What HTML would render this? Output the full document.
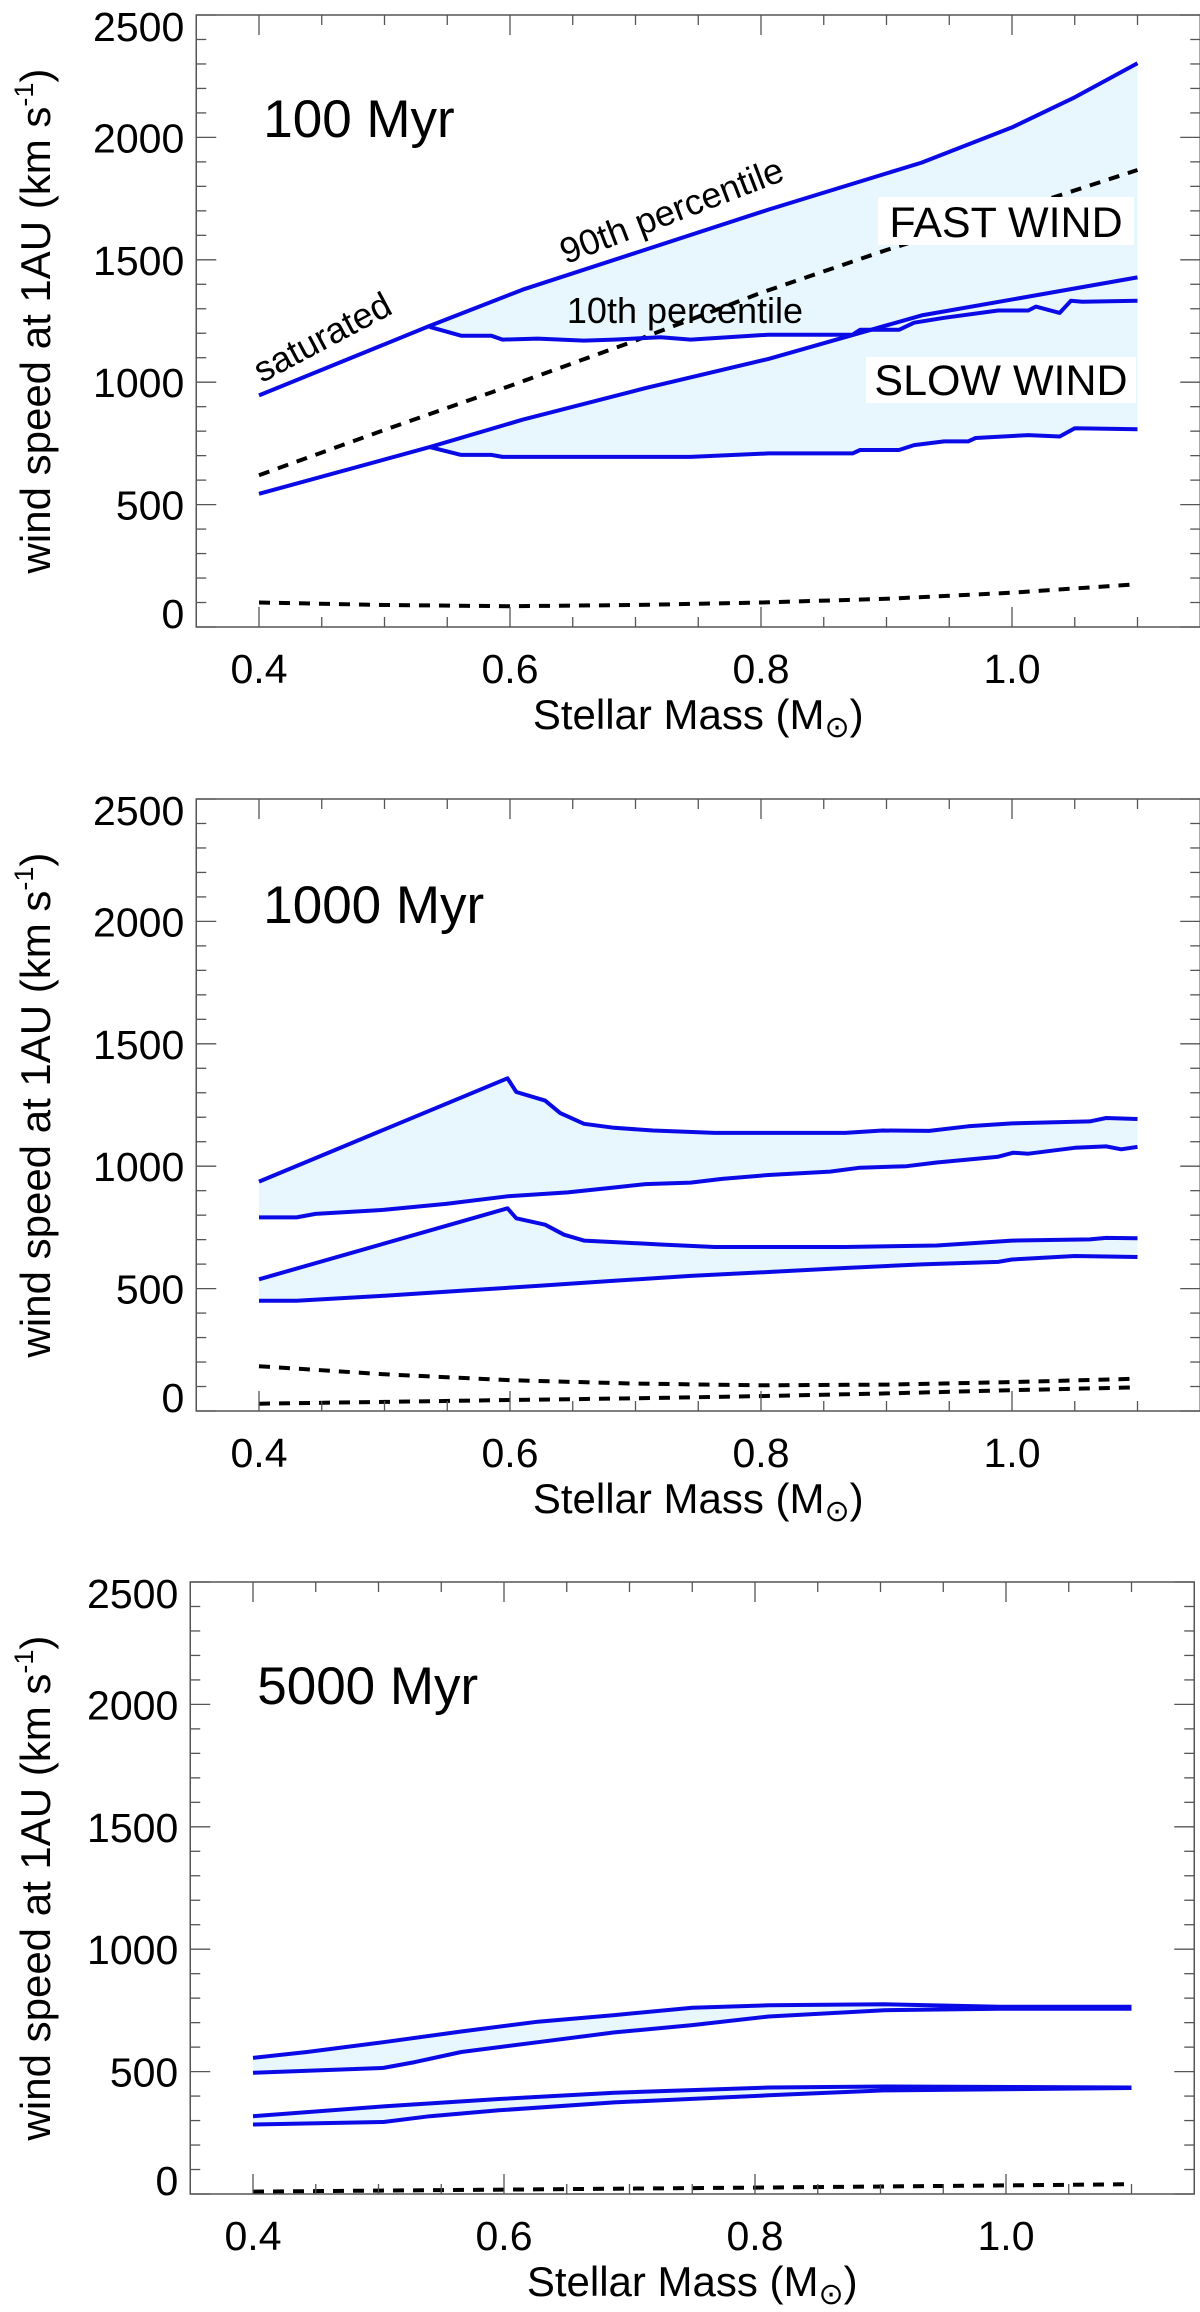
<!DOCTYPE html>
<html><head><meta charset="utf-8">
<style>
html,body{margin:0;padding:0;background:#fff;}
svg{display:block;font-family:"Liberation Sans",Arial,sans-serif;}
</style></head>
<body>
<svg id="chart" width="1200" height="2312" viewBox="0 0 1200 2312" xmlns="http://www.w3.org/2000/svg"></svg>
<script>
// ---------- DATA ----------
const xTicks = [0.4, 0.6, 0.8, 1.0];
const xTickLabels = ["0.4", "0.6", "0.8", "1.0"];
const yTicks = [0, 500, 1000, 1500, 2000, 2500];
const yTickLabels = ["0", "500", "1000", "1500", "2000", "2500"];
const panelTitles = ["100 Myr", "1000 Myr", "5000 Myr"];

// Panel 1 (100 Myr)
const p1FastUpperM = [0.4, 0.536, 0.61, 0.806, 0.928, 1.0, 1.05, 1.1];
const p1FastUpperV = [946, 1230, 1378, 1705, 1897, 2041, 2164, 2303];
const p1FastLowerM = [0.536, 0.561, 0.585, 0.594, 0.622, 0.659, 0.683, 0.72, 0.744, 0.806, 0.873, 0.879, 0.91, 0.922, 0.946, 0.989, 1.013, 1.019, 1.038, 1.047, 1.056, 1.1];
const p1FastLowerV = [1226, 1190, 1190, 1174, 1178, 1170, 1174, 1184, 1174, 1194, 1194, 1214, 1214, 1243, 1263, 1293, 1293, 1309, 1283, 1333, 1329, 1333];
const p1SlowUpperM = [0.4, 0.536, 0.61, 0.708, 0.806, 0.928, 1.1];
const p1SlowUpperV = [544, 735, 847, 976, 1095, 1273, 1428];
const p1SlowLowerM = [0.536, 0.561, 0.585, 0.594, 0.659, 0.744, 0.806, 0.873, 0.879, 0.91, 0.922, 0.946, 0.965, 0.971, 1.013, 1.038, 1.05, 1.1];
const p1SlowLowerV = [735, 703, 703, 695, 695, 695, 709, 709, 723, 723, 743, 758, 758, 772, 784, 778, 812, 808];
const p1DashBoundM = [0.4, 0.5, 0.6, 0.7, 0.8, 0.9, 1.0, 1.1];
const p1DashBoundV = [620, 805, 985, 1170, 1365, 1540, 1700, 1867];
const p1DashLowM = [0.4, 0.5, 0.6, 0.7, 0.8, 0.9, 1.0, 1.1];
const p1DashLowV = [100, 90, 85, 90, 100, 115, 140, 175];

// Panel 2 (1000 Myr)
const p2FastUpperM = [0.4, 0.598, 0.605, 0.628, 0.64, 0.659, 0.683, 0.714, 0.763, 0.867, 0.897, 0.934, 0.965, 1.0, 1.062, 1.075, 1.1];
const p2FastUpperV = [937, 1359, 1303, 1268, 1217, 1173, 1157, 1146, 1136, 1136, 1146, 1144, 1163, 1175, 1183, 1197, 1193];
const p2FastLowerM = [0.4, 0.43, 0.445, 0.5, 0.549, 0.598, 0.646, 0.683, 0.708, 0.744, 0.769, 0.806, 0.855, 0.879, 0.916, 0.94, 0.989, 1.001, 1.013, 1.05, 1.075, 1.087, 1.1];
const p2FastLowerV = [791, 791, 805, 822, 846, 877, 893, 913, 927, 933, 948, 964, 978, 994, 1000, 1015, 1039, 1055, 1051, 1075, 1081, 1069, 1079];
const p2SlowUpperM = [0.4, 0.598, 0.605, 0.628, 0.643, 0.659, 0.683, 0.72, 0.763, 0.867, 0.94, 1.0, 1.062, 1.075, 1.1];
const p2SlowUpperV = [538, 828, 787, 761, 720, 696, 690, 680, 670, 670, 676, 696, 701, 707, 706];
const p2SlowLowerM = [0.4, 0.43, 0.5, 0.561, 0.622, 0.683, 0.744, 0.806, 0.867, 0.928, 0.989, 1.0, 1.05, 1.1];
const p2SlowLowerV = [450, 450, 471, 491, 511, 532, 552, 568, 584, 599, 609, 619, 633, 629];
const p2DashUpperM = [0.4, 0.5, 0.6, 0.7, 0.8, 0.9, 1.0, 1.1];
const p2DashUpperV = [183, 150, 126, 112, 105, 108, 118, 132];
const p2DashLowerM = [0.4, 0.5, 0.6, 0.7, 0.8, 0.9, 1.0, 1.1];
const p2DashLowerV = [30, 37, 45, 52, 61, 72, 85, 97];

// Panel 3 (5000 Myr)
const p3FastUpperM = [0.4, 0.443, 0.504, 0.566, 0.627, 0.688, 0.75, 0.811, 0.903, 0.995, 1.1];
const p3FastUpperV = [556, 580, 620, 664, 704, 731, 761, 771, 775, 765, 765];
const p3FastLowerM = [0.4, 0.504, 0.529, 0.566, 0.627, 0.688, 0.75, 0.811, 0.903, 0.995, 1.1];
const p3FastLowerV = [495, 515, 539, 580, 620, 660, 690, 725, 751, 757, 757];
const p3SlowUpperM = [0.4, 0.504, 0.596, 0.688, 0.811, 0.903, 1.1];
const p3SlowUpperV = [318, 358, 388, 414, 435, 439, 435];
const p3SlowLowerM = [0.4, 0.504, 0.541, 0.596, 0.688, 0.811, 0.903, 1.1];
const p3SlowLowerV = [284, 294, 318, 342, 374, 403, 423, 433];
const p3DashM = [0.4, 0.6, 0.8, 1.0, 1.1];
const p3DashV = [10, 18, 26, 35, 40];

// ---------- LAYOUT ----------
const NS = "http://www.w3.org/2000/svg";
const svg = document.getElementById("chart");
const panels = [
  {x04: 259, bottom: 627, top: 15},
  {x04: 259, bottom: 1411, top: 799},
  {x04: 253, bottom: 2194, top: 1582}
];
const PXM = 1255, PXV = 0.2448;
const BLUE = "#0a0ae6", FILL = "#e8f6fd";

function mk(tag, attrs, parent) {
  const e = document.createElementNS(NS, tag);
  for (const k in attrs) e.setAttribute(k, attrs[k]);
  (parent || svg).appendChild(e);
  return e;
}
function xs(p, m) { return p.x04 + (m - 0.4) * PXM; }
function ys(p, v) { return p.bottom - v * PXV; }
function pts(p, M, V) { return M.map((m, i) => xs(p, m).toFixed(1) + "," + ys(p, V[i]).toFixed(1)); }

function drawLine(g, p, M, V, name, dashed) {
  const el = mk("polyline", {points: pts(p, M, V).join(" "), fill: "none",
    stroke: dashed ? "#000" : BLUE, "stroke-width": 4, "stroke-linejoin": "round",
    "stroke-dasharray": dashed ? "11 9" : "none"}, g);
  
  
}
function drawBand(g, p, UM, UV, LM, LV, name) {
  const a = pts(p, UM, UV), b = pts(p, LM, LV).reverse();
  const el = mk("polygon", {points: a.concat(b).join(" "), fill: FILL, stroke: "none"}, g);
  
  
}
function text(g, x, y, s, size, anchor, name, extra) {
  const t = mk("text", Object.assign({x: x, y: y, "font-size": size, "text-anchor": anchor || "start", fill: "#000"}, extra || {}), g);
  t.textContent = s;
  
  
  return t;
}

function drawAxes(p, idx) {
  const g = mk("g", {});
  
  
  const L = xs(p, 0.35), R = xs(p, 1.15);
  const fr = mk("rect", {x: L, y: p.top, width: R - L, height: p.bottom - p.top, fill: "none", stroke: "#555", "stroke-width": 1.5}, g);
  
  
  for (let v = 0; v <= 2500; v += 100) {
    const y = ys(p, v), major = v % 500 === 0, len = major ? 20 : 10;
    mk("line", {x1: L, y1: y, x2: L + len, y2: y, stroke: "#555", "stroke-width": 1.3}, g);
    mk("line", {x1: R, y1: y, x2: R - len, y2: y, stroke: "#555", "stroke-width": 1.3}, g);
  }
  for (let k = 0; k <= 16; k++) {
    const m = 0.35 + k * 0.05, x = xs(p, m);
    const major = Math.abs(((m - 0.4) / 0.2) - Math.round((m - 0.4) / 0.2)) < 1e-6;
    const len = major ? 20 : 10;
    mk("line", {x1: x, y1: p.bottom, x2: x, y2: p.bottom - len, stroke: "#555", "stroke-width": 1.3}, g);
    mk("line", {x1: x, y1: p.top, x2: x, y2: p.top + len, stroke: "#555", "stroke-width": 1.3}, g);
  }
  yTicks.forEach((v, i) => {
    let cy = ys(p, v);
    cy = Math.max(p.top + 11, Math.min(p.bottom - 14, cy));
    text(g, L - 12, cy + 15, yTickLabels[i], 41, "end", "y-tick-label");
  });
  xTicks.forEach((m, i) => {
    text(g, xs(p, m), p.bottom + 56, xTickLabels[i], 41, "middle", "x-tick-label");
  });
  const xt = text(g, (L + R) / 2, p.bottom + 102, "Stellar Mass (M", 42, "middle", "x-axis-title");
  const sun = mk("tspan", {"font-size": 30, dy: 8}, xt); sun.textContent = "\u2299";
  const cl = mk("tspan", {"font-size": 42, dy: -8}, xt); cl.textContent = ")";
  const cy = (p.top + p.bottom) / 2;
  const yt = text(g, 0, 0, "wind speed at 1AU (km s", 42, "middle", "y-axis-title", {transform: "translate(50," + cy + ") rotate(-90)"});
  const sup = mk("tspan", {"font-size": 27, dy: -17}, yt); sup.textContent = "-1";
  const cp = mk("tspan", {"font-size": 42, dy: 17}, yt); cp.textContent = ")";
  text(g, L + 67, idx === 0 ? 137 : (idx === 1 ? 923 : 1704), panelTitles[idx], 53, "start", "panel-title");
  return g;
}

// ---------- PANEL 1 ----------
(function () {
  const p = panels[0];
  const g = mk("g", {});
  
  
  drawBand(g, p, p1FastUpperM, p1FastUpperV, p1FastLowerM, p1FastLowerV, 'fast-wind-band');
  drawBand(g, p, p1SlowUpperM, p1SlowUpperV, p1SlowLowerM, p1SlowLowerV, 'slow-wind-band');
  drawLine(g, p, p1DashBoundM, p1DashBoundV, 'fast-slow-boundary-dashed', true);
  drawLine(g, p, p1DashLowM, p1DashLowV, 'low-dashed-line', true);
  drawLine(g, p, p1FastUpperM, p1FastUpperV, 'fast-90th-percentile', false);
  drawLine(g, p, p1FastLowerM, p1FastLowerV, 'fast-10th-percentile', false);
  drawLine(g, p, p1SlowUpperM, p1SlowUpperV, 'slow-90th-percentile', false);
  drawLine(g, p, p1SlowLowerM, p1SlowLowerV, 'slow-10th-percentile', false);
  const b1 = mk("rect", {x: 878, y: 197, width: 256, height: 48, fill: "#fff"}, g);
  
  
  text(g, 1006, 237, "FAST WIND", 43, "middle", "fast-wind-label");
  const b2 = mk("rect", {x: 866, y: 357, width: 270, height: 46, fill: "#fff"}, g);
  
  
  text(g, 1001, 395, "SLOW WIND", 43, "middle", "slow-wind-label");
  text(g, 0, 0, "saturated", 36, "middle", "saturated-label", {transform: "translate(328,348) rotate(-28)"});
  text(g, 0, 0, "90th percentile", 36, "middle", "90th-percentile-label", {transform: "translate(676,222) rotate(-21)"});
  text(g, 685, 323, "10th percentile", 36, "middle", "10th-percentile-label");
  drawAxes(p, 0);
})();

// ---------- PANEL 2 ----------
(function () {
  const p = panels[1];
  const g = mk("g", {});
  
  
  drawBand(g, p, p2FastUpperM, p2FastUpperV, p2FastLowerM, p2FastLowerV, 'fast-wind-band');
  drawBand(g, p, p2SlowUpperM, p2SlowUpperV, p2SlowLowerM, p2SlowLowerV, 'slow-wind-band');
  drawLine(g, p, p2DashUpperM, p2DashUpperV, 'upper-dashed-line', true);
  drawLine(g, p, p2DashLowerM, p2DashLowerV, 'lower-dashed-line', true);
  drawLine(g, p, p2FastUpperM, p2FastUpperV, 'fast-90th-percentile', false);
  drawLine(g, p, p2FastLowerM, p2FastLowerV, 'fast-10th-percentile', false);
  drawLine(g, p, p2SlowUpperM, p2SlowUpperV, 'slow-90th-percentile', false);
  drawLine(g, p, p2SlowLowerM, p2SlowLowerV, 'slow-10th-percentile', false);
  drawAxes(p, 1);
})();

// ---------- PANEL 3 ----------
(function () {
  const p = panels[2];
  const g = mk("g", {});
  
  
  drawBand(g, p, p3FastUpperM, p3FastUpperV, p3FastLowerM, p3FastLowerV, 'fast-wind-band');
  drawBand(g, p, p3SlowUpperM, p3SlowUpperV, p3SlowLowerM, p3SlowLowerV, 'slow-wind-band');
  drawLine(g, p, p3DashM, p3DashV, 'dashed-line', true);
  drawLine(g, p, p3FastUpperM, p3FastUpperV, 'fast-90th-percentile', false);
  drawLine(g, p, p3FastLowerM, p3FastLowerV, 'fast-10th-percentile', false);
  drawLine(g, p, p3SlowUpperM, p3SlowUpperV, 'slow-90th-percentile', false);
  drawLine(g, p, p3SlowLowerM, p3SlowLowerV, 'slow-10th-percentile', false);
  drawAxes(p, 2);
})();
</script>
</body></html>
